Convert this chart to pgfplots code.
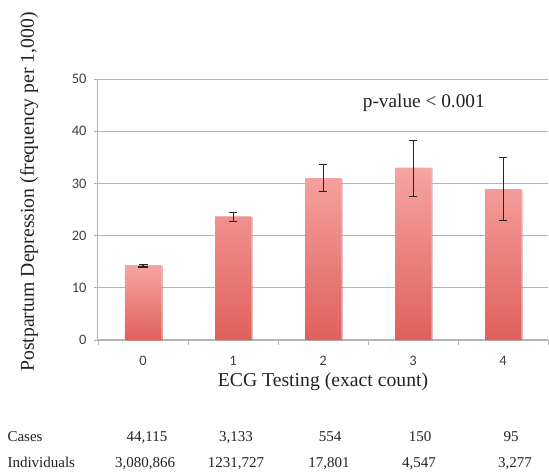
\documentclass[border=0pt]{standalone}
\usepackage{pgfplots}
\pgfplotsset{compat=1.18}
\usepackage{fontspec}
\setmainfont{Liberation Serif}
\newfontfamily\carlito{Carlito}
\usetikzlibrary{shadows}
\definecolor{bartop}{HTML}{F6A4A3}
\definecolor{barbot}{HTML}{E0605A}
\definecolor{gridc}{HTML}{B4B4B4}
\definecolor{txt}{HTML}{222222}
\begin{document}
\begin{tikzpicture}[x=1pt,y=1pt]
\useasboundingbox (0,0) rectangle (549,474);
\begin{axis}[
  at={(98pt,134pt)}, anchor=south west,
  scale only axis, width=450pt, height=261pt,
  xmin=-0.5, xmax=4.5, ymin=0, ymax=50,
  axis x line*=bottom, axis y line*=left,
  axis line style={gridc, line width=1pt},
  xtick={0,1,2,3,4}, xticklabels={0,1,2,3,4},
  major x tick style={draw=none},
  minor xtick={-0.5,0.5,1.5,2.5,3.5,4.5},
  minor x tick style={gridc, line width=0.8pt},
  minor tick length=5pt,
  ytick={0,10,20,30,40,50},
  major y tick style={gridc, line width=0.8pt},
  major tick length=4pt,
  tick align=outside,
  ymajorgrids, grid style={gridc, line width=0.9pt},
  /pgf/number format/assume math mode=true,
  ticklabel style={font=\carlito\fontsize{14.5}{14.5}\selectfont, text=black!75},
  yticklabel style={xshift=-4pt},
  xticklabel style={yshift=-9pt},
  xlabel={ECG Testing (exact count)},
  ylabel={Postpartum Depression (frequency per 1,000)},
  every axis x label/.style={at={(axis description cs:0.5,0)}, anchor=center, yshift=-42pt, font=\fontsize{19.7}{20}\selectfont, text=txt},
  every axis y label/.style={at={(axis description cs:-0.153,0.567)}, anchor=center, rotate=90, font=\fontsize{19.7}{20}\selectfont, text=txt},
  clip=false,
]
\addplot[ybar, bar width=36pt, draw=none, top color=bartop, bottom color=barbot,
  drop shadow={shadow xshift=1.5pt, shadow yshift=-0.5pt, fill=black!35, opacity=0.5},
  error bars/.cd, y dir=both, y explicit,
  error bar style={black!85, line width=1.2pt},
  error mark options={rotate=90, mark size=4.5pt, line width=1.2pt, black!85}]
coordinates {
 (0,14.2) +- (0,0.2)
};
\addplot[ybar, bar width=36pt, draw=none, top color=bartop, bottom color=barbot,
  drop shadow={shadow xshift=1.5pt, shadow yshift=-0.5pt, fill=black!35, opacity=0.5},
  error bars/.cd, y dir=both, y explicit,
  error bar style={black!85, line width=0.9pt},
  error mark options={rotate=90, mark size=4pt, line width=0.9pt, black!85}]
table[x=x, y=y, y error plus=ep, y error minus=em] {
x y ep em
1 23.7 0.8 0.9
2 31.0 2.7 2.6
3 33.0 5.3 5.5
4 28.9 6.0 6.0
};
\node[font=\fontsize{19.3}{20}\selectfont, text=txt] at (axis cs:3.12,45.4) {p-value < 0.001};
\end{axis}
\begin{scope}[every node/.style={font=\fontsize{15}{15}\selectfont, text=txt, anchor=base}]
\node[anchor=base west] at (4,32) {Cases};
\node at (147,32) {44,115};
\node at (236,32) {3,133};
\node at (330,32) {554};
\node at (420,32) {150};
\node at (511,32) {95};
\node[anchor=base west] at (4,6) {Individuals};
\node at (145,6) {3,080,866};
\node at (236,6) {1231,727};
\node at (329,6) {17,801};
\node at (419,6) {4,547};
\node at (515,6) {3,277};
\end{scope}
\end{tikzpicture}
\end{document}
